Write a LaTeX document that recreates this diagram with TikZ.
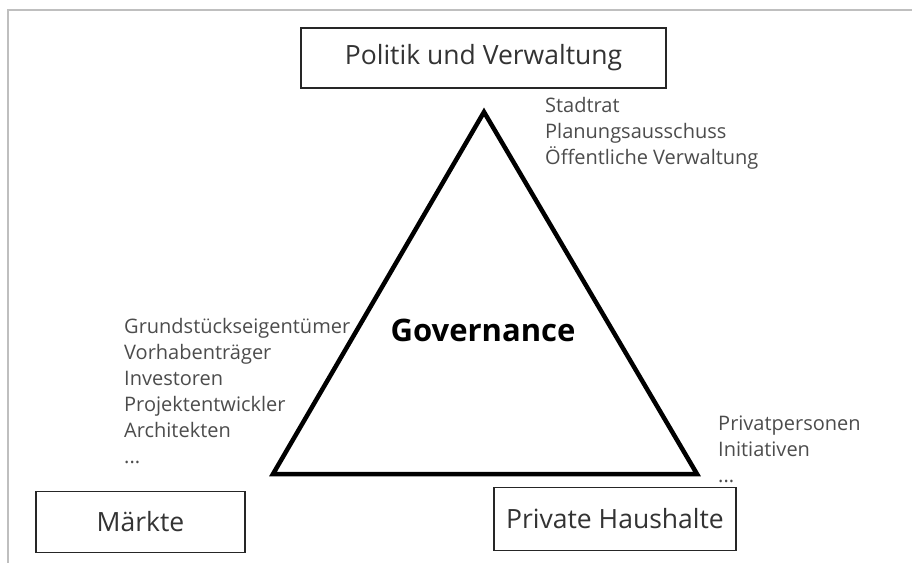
\documentclass[tikz,border=0pt]{standalone}
\usepackage{fontspec}
\setmainfont{Open Sans}
\usepackage{tikz}
\usetikzlibrary{positioning}

\tikzset{
	actor/.style={draw=black!85, line width=1.2pt, fill=white, inner sep=0pt, font=\fontsize{26.5}{30}\selectfont, text=black!80},
	members/.style={draw=none, fill=none, inner sep=0pt, align=left, font=\fontsize{20}{26}\selectfont, text=black!70}
}

\begin{document}
\begin{tikzpicture}[x=1pt, y=-1pt]
	\useasboundingbox (0,0) rectangle (912,563);
	\draw [black!25, line width=2pt] (912,10) -- (8,10) -- (8,563);
	% triangle
	\coordinate (T) at (484,112);
	\coordinate (L) at (273,474);
	\coordinate (R) at (697,474);
	\draw [line width=4.5pt, line join=miter] (T) -- (L) -- (R) -- cycle;
	\node [draw=none, fill=none, font=\bfseries\fontsize{31}{34}\selectfont] (G) at (483,330) {Governance};
	% actors
	\node [actor, minimum width=365pt, minimum height=60pt] (A) at (483.5,58) {Politik und Verwaltung};
	\node [actor, minimum width=209pt, minimum height=61pt] (B) at (140.5,522) {Märkte};
	\node [actor, minimum width=242pt, minimum height=63pt] (C) at (615,519) {Private Haushalte};
	% members (anchored at the last line)
	\node [members, anchor=base west] (D) at (545,164) {Stadtrat\\Planungsausschuss\\Öffentliche Verwaltung};
	\node [members, anchor=base west] (E) at (124,463) {Grundstückseigentümer\\Vorhabenträger\\Investoren\\Projektentwickler\\Architekten\\...};
	\node [members, anchor=base west] (F) at (718,482) {Privatpersonen\\Initiativen\\...};
\end{tikzpicture}
\end{document}
